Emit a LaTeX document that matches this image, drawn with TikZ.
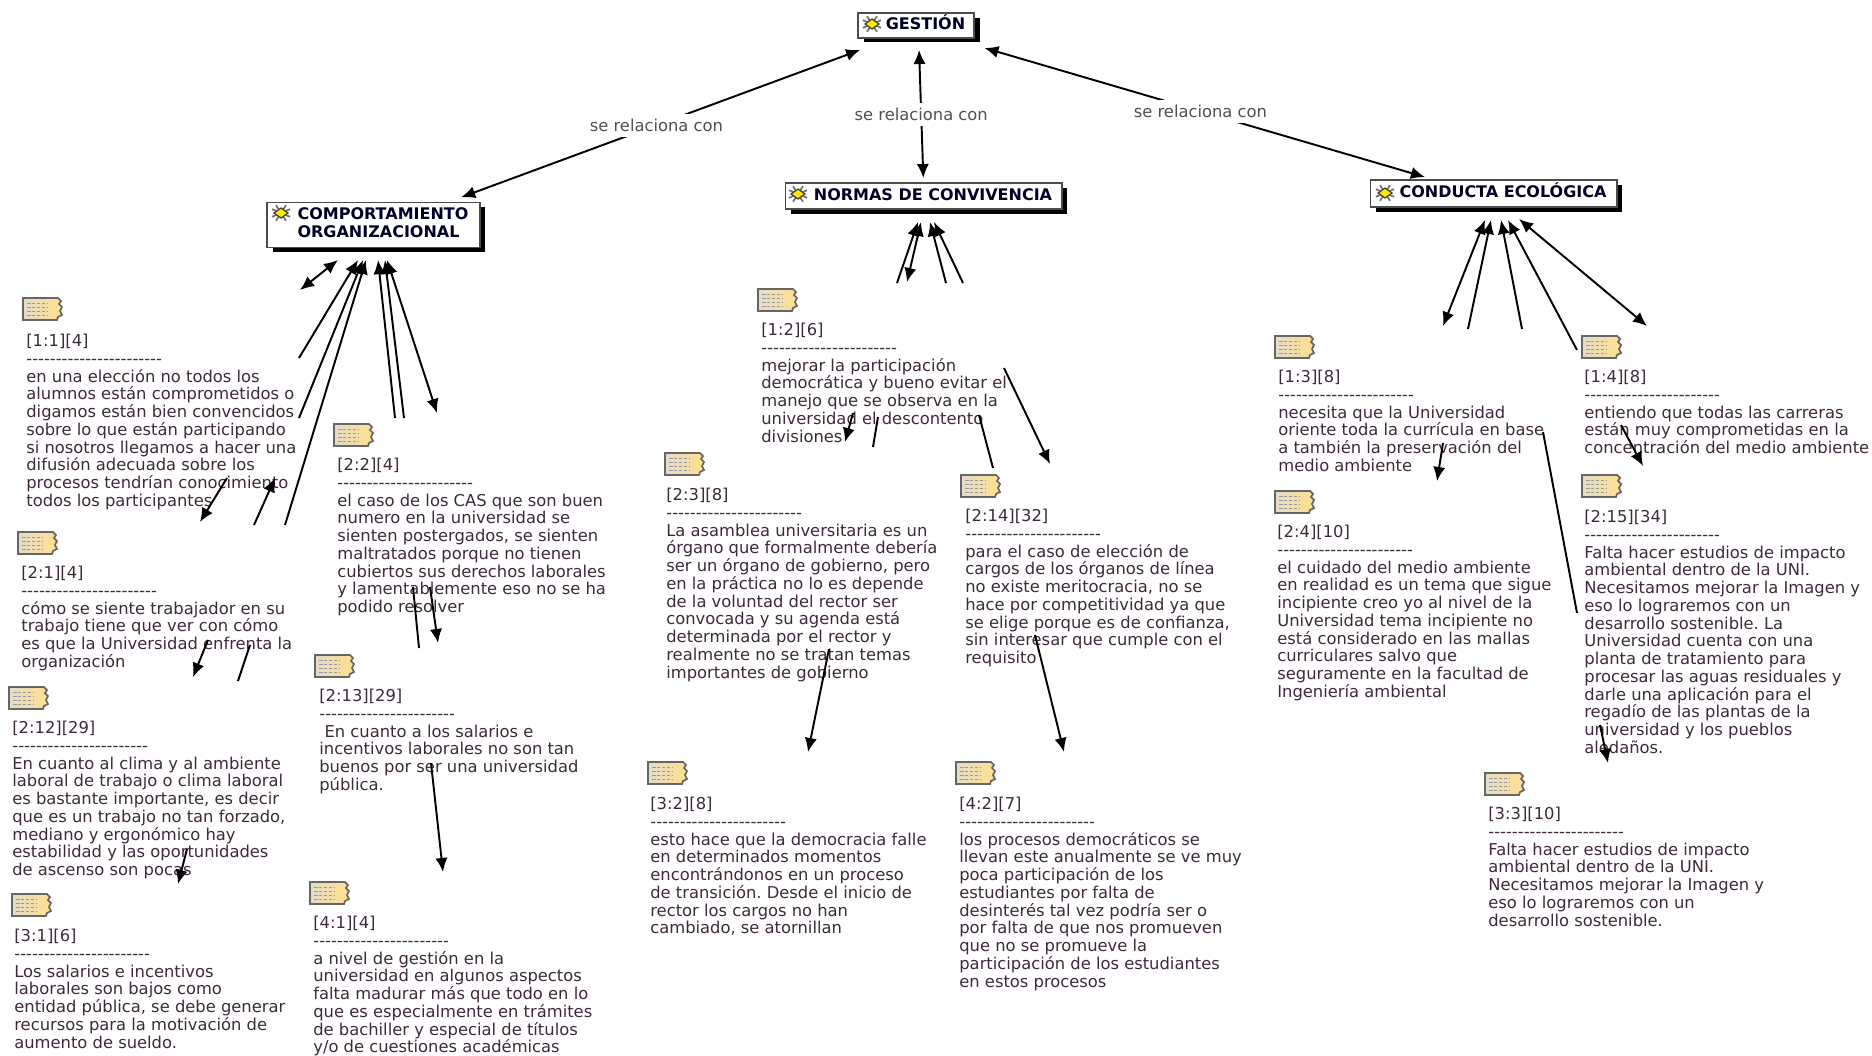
\documentclass[tikz,border=0pt]{standalone}
\usepackage{fontspec}
\usepackage{tikz}
\usetikzlibrary{arrows.meta,shadows}

\newfontfamily\notefont{DejaVu Sans}
\newcommand{\noterule}{-----------------------}
\newcommand{\iconpad}{\hspace*{0.38cm}}
\definecolor{notecol}{HTML}{3C2A3C}
\definecolor{labelcol}{HTML}{505050}
\definecolor{paperA}{HTML}{E4DCC8}
\definecolor{paperB}{HTML}{FFE08E}

\tikzset{
  notetext/.style={font=\notefont\frenchspacing\fontsize{9.3}{10.1}\selectfont, text=notecol, align=left, inner sep=0pt, anchor=north west, yshift=-0.5pt},
  conceptbox/.style={draw=black!70, fill=white, line width=0.6pt, outer sep=0pt, inner sep=0pt, align=left,
    font=\notefont\bfseries\fontsize{9.1}{10.2}\selectfont, text=black!85!blue,
    drop shadow={shadow xshift=0.11cm, shadow yshift=-0.09cm, fill=black, opacity=1}},
  rellabel/.style={font=\notefont\fontsize{9.3}{10}\selectfont, text=labelcol, fill=white, inner xsep=1pt, inner ysep=3pt},
  link/.style={line width=1.1pt, >={Latex[length=8pt,width=7pt]}},
  noteicon/.pic={
    \draw[draw=black!60, line width=1pt, left color=paperA, right color=paperB]
      (0,0) -- (35,0) -- (38,3) -- (36,6) -- (39,9) -- (37,13) -- (39,17) -- (35,19) -- (34,22) -- (0,22) -- cycle;
    \foreach \r in {5,9,13,17}
      \draw[black!40, line width=0.5pt, dash pattern=on 2pt off 0.8pt] (4,\r) -- (24,\r);
  },
  conceptmark/.pic={
    \foreach \a in {25,60,120,155,205,240,300,335}
      \draw[black!55, line width=1pt] (0,0) -- (\a:10 and 9);
    \draw[black!75, fill=yellow!90!orange, line width=0.7pt] (-7,0) -- (0,-5) -- (7,0) -- (0,5) -- cycle;
  }
}

\begin{document}
\begin{tikzpicture}[x=0.02cm, y=-0.02cm]

   \useasboundingbox (0,0) rectangle (1872,1055);

   % concepts
   \node[conceptbox, minimum width=2.32cm, minimum height=0.5cm, text height=6.5pt, text depth=1.5pt] (gestion) at (916,25.5) {\iconpad GESTIÓN};
   \node[conceptbox, minimum width=4.26cm, minimum height=0.9cm, text depth=3pt] (comport) at (373.5,225) {\iconpad COMPORTAMIENTO\\\iconpad ORGANIZACIONAL};
   \node[conceptbox, minimum width=5.54cm, minimum height=0.52cm, text height=6.5pt, text depth=1.5pt] (normas) at (923.5,196) {\iconpad NORMAS DE CONVIVENCIA};
   \node[conceptbox, minimum width=4.94cm, minimum height=0.54cm, text height=6.5pt, text depth=1.5pt] (conducta) at (1493.5,193.5) {\iconpad CONDUCTA ECOLÓGICA};

   \pic at (872,24) {conceptmark};
   \pic at (281,213) {conceptmark};
   \pic at (798,194) {conceptmark};
   \pic at (1385,193) {conceptmark};

   % main relations
   \draw[link,<->,shorten <=0.69cm,shorten >=0.3cm] (gestion.-152) -- node[rellabel,pos=0.53] (rel1) {se relaciona con} (comport.17.6);
   \draw[link,<->,shorten <=0.24cm,shorten >=0.1cm] (gestion.-78) -- node[rellabel,pos=0.53] (rel2) {se relaciona con} (normas.north);
   \draw[link,<->,shorten <=0.71cm,shorten >=0.21cm] (gestion.-20.9) -- node[rellabel,pos=0.516] (rel3) {se relaciona con} (conducta.167.2);

   % note icons
   \pic at (23,298) {noteicon};
   \pic at (18,532) {noteicon};
   \pic at (9,687) {noteicon};
   \pic at (12,894) {noteicon};
   \pic at (334,424) {noteicon};
   \pic at (315,655) {noteicon};
   \pic at (310,882) {noteicon};
   \pic at (758,289) {noteicon};
   \pic at (665,453) {noteicon};
   \pic at (961,475) {noteicon};
   \pic at (648,762) {noteicon};
   \pic at (956,762) {noteicon};
   \pic at (1275,336) {noteicon};
   \pic at (1582,336) {noteicon};
   \pic at (1275,491) {noteicon};
   \pic at (1582,475) {noteicon};
   \pic at (1485,773) {noteicon};

   % notes, left
   \node[notetext] (n11) at (26,333) {[1:1][4]\\\noterule\\en una elección no todos los\\alumnos están comprometidos o\\digamos están bien convencidos\\sobre lo que están participando\\si nosotros llegamos a hacer una\\difusión adecuada sobre los\\procesos tendrían conocimiento\\todos los participantes};
   \node[notetext] (n21) at (21,565) {[2:1][4]\\\noterule\\cómo se siente trabajador en su\\trabajo tiene que ver con cómo\\es que la Universidad enfrenta la\\organización};
   \node[notetext] (n212) at (12,720) {[2:12][29]\\\noterule\\En cuanto al clima y al ambiente\\laboral de trabajo o clima laboral\\es bastante importante, es decir\\que es un trabajo no tan forzado,\\mediano y ergonómico hay\\estabilidad y las oportunidades\\de ascenso son pocas};
   \node[notetext] (n31) at (14,928) {[3:1][6]\\\noterule\\Los salarios e incentivos\\laborales son bajos como\\entidad pública, se debe generar\\recursos para la motivación de\\aumento de sueldo.};
   \node[notetext] (n22) at (337,457) {[2:2][4]\\\noterule\\el caso de los CAS que son buen\\numero en la universidad se\\sienten postergados, se sienten\\maltratados porque no tienen\\cubiertos sus derechos laborales\\y lamentablemente eso no se ha\\podido resolver};
   \node[notetext] (n213) at (319,688) {[2:13][29]\\\noterule\\\hspace*{3pt}En cuanto a los salarios e\\incentivos laborales no son tan\\buenos por ser una universidad\\pública.};
   \node[notetext] (n41) at (313,915) {[4:1][4]\\\noterule\\a nivel de gestión en la\\universidad en algunos aspectos\\falta madurar más que todo en lo\\que es especialmente en trámites\\de bachiller y especial de títulos\\y/o de cuestiones académicas};

   % notes, centre
   \node[notetext] (n12) at (761,322) {[1:2][6]\\\noterule\\mejorar la participación\\democrática y bueno evitar el\\manejo que se observa en la\\universidad el descontento\\divisiones};
   \node[notetext] (n23) at (666,487) {[2:3][8]\\\noterule\\La asamblea universitaria es un\\órgano que formalmente debería\\ser un órgano de gobierno, pero\\en la práctica no lo es depende\\de la voluntad del rector ser\\convocada y su agenda está\\determinada por el rector y\\realmente no se tratan temas\\importantes de gobierno};
   \node[notetext] (n214) at (965,508) {[2:14][32]\\\noterule\\para el caso de elección de\\cargos de los órganos de línea\\no existe meritocracia, no se\\hace por competitividad ya que\\se elige porque es de confianza,\\sin interesar que cumple con el\\requisito};
   \node[notetext] (n32) at (650,796) {[3:2][8]\\\noterule\\esto hace que la democracia falle\\en determinados momentos\\encontrándonos en un proceso\\de transición. Desde el inicio de\\rector los cargos no han\\cambiado, se atornillan};
   \node[notetext] (n42) at (959,796) {[4:2][7]\\\noterule\\los procesos democráticos se\\llevan este anualmente se ve muy\\poca participación de los\\estudiantes por falta de\\desinterés tal vez podría ser o\\por falta de que nos promueven\\que no se promueve la\\participación de los estudiantes\\en estos procesos};

   % notes, right
   \node[notetext] (n13) at (1278,369) {[1:3][8]\\\noterule\\necesita que la Universidad\\oriente toda la currícula en base\\a también la preservación del\\medio ambiente};
   \node[notetext] (n14) at (1584,369) {[1:4][8]\\\noterule\\entiendo que todas las carreras\\están muy comprometidas en la\\concentración del medio ambiente};
   \node[notetext] (n24) at (1277,524) {[2:4][10]\\\noterule\\el cuidado del medio ambiente\\en realidad es un tema que sigue\\incipiente creo yo al nivel de la\\Universidad tema incipiente no\\está considerado en las mallas\\curriculares salvo que\\seguramente en la facultad de\\Ingeniería ambiental};
   \node[notetext] (n215) at (1584,509) {[2:15][34]\\\noterule\\Falta hacer estudios de impacto\\ambiental dentro de la UNI.\\Necesitamos mejorar la Imagen y\\eso lo lograremos con un\\desarrollo sostenible. La\\Universidad cuenta con una\\planta de tratamiento para\\procesar las aguas residuales y\\darle una aplicación para el\\regadío de las plantas de la\\universidad y los pueblos\\aledaños.};
   \node[notetext] (n33) at (1488,806) {[3:3][10]\\\noterule\\Falta hacer estudios de impacto\\ambiental dentro de la UNI.\\Necesitamos mejorar la Imagen y\\eso lo lograremos con un\\desarrollo sostenible.};

   % links, comportamiento
   \coordinate (a1) at (338,260); \coordinate (b1) at (300,290);
   \coordinate (a2) at (299,358); \coordinate (b2) at (358,260);
   \coordinate (a3) at (299,418); \coordinate (b3) at (363,260);
   \coordinate (a4) at (285,525); \coordinate (b4) at (366,260);
   \coordinate (a5) at (395,418); \coordinate (b5) at (378,260);
   \coordinate (a6) at (404,418); \coordinate (b6) at (385,260);
   \coordinate (a7) at (387,260); \coordinate (b7) at (437,413);
   \coordinate (a8) at (227,478); \coordinate (b8) at (200,522);
   \coordinate (a9) at (254,525); \coordinate (b9) at (275,478);
   \coordinate (a10) at (208,640); \coordinate (b10) at (193,677);
   \coordinate (a11) at (250,645); \coordinate (b11) at (238,681);
   \coordinate (a12) at (413,587); \coordinate (b12) at (419,648);
   \coordinate (a13) at (430,587); \coordinate (b13) at (438,643);
   \coordinate (a14) at (431,763); \coordinate (b14) at (443,872);
   \coordinate (a15) at (187,849); \coordinate (b15) at (178,884);

   \draw[link,<->] (a1) -- (b1);
   \draw[link,->] (a2) -- (b2);
   \draw[link,->] (a3) -- (b3);
   \draw[link,->] (a4) -- (b4);
   \draw[link,->] (a5) -- (b5);
   \draw[link,->] (a6) -- (b6);
   \draw[link,<->] (a7) -- (b7);
   \draw[link,->] (a8) -- (b8);
   \draw[link,->] (a9) -- (b9);
   \draw[link,->] (a10) -- (b10);
   \draw[link] (a11) -- (b11);
   \draw[link] (a12) -- (b12);
   \draw[link,->] (a13) -- (b13);
   \draw[link,->] (a14) -- (b14);
   \draw[link,->] (a15) -- (b15);

   % links, normas
   \coordinate (a16) at (897,283); \coordinate (b16) at (918,222);
   \coordinate (a17) at (921,222); \coordinate (b17) at (907,282);
   \coordinate (a18) at (946,283); \coordinate (b18) at (930,222);
   \coordinate (a19) at (963,283); \coordinate (b19) at (934,222);
   \coordinate (a20) at (853,413); \coordinate (b20) at (845,442);
   \coordinate (a21) at (878,417); \coordinate (b21) at (873,447);
   \coordinate (a22) at (979,415); \coordinate (b22) at (993,468);
   \coordinate (a23) at (1004,368); \coordinate (b23) at (1050,464);
   \coordinate (a24) at (829,649); \coordinate (b24) at (808,752);
   \coordinate (a25) at (1035,635); \coordinate (b25) at (1064,752);

   \draw[link,->] (a16) -- (b16);
   \draw[link,<->] (a17) -- (b17);
   \draw[link,->] (a18) -- (b18);
   \draw[link,->] (a19) -- (b19);
   \draw[link,->] (a20) -- (b20);
   \draw[link] (a21) -- (b21);
   \draw[link] (a22) -- (b22);
   \draw[link,->] (a23) -- (b23);
   \draw[link,->] (a24) -- (b24);
   \draw[link,->] (a25) -- (b25);

   % links, conducta
   \coordinate (a26) at (1485,220); \coordinate (b26) at (1443,326);
   \coordinate (a27) at (1468,329); \coordinate (b27) at (1491,220);
   \coordinate (a28) at (1522,329); \coordinate (b28) at (1501,220);
   \coordinate (a29) at (1577,350); \coordinate (b29) at (1508,220);
   \coordinate (a30) at (1519,219); \coordinate (b30) at (1647,326);
   \coordinate (a31) at (1443,443); \coordinate (b31) at (1437,481);
   \coordinate (a32) at (1543,432); \coordinate (b32) at (1577,613);
   \coordinate (a33) at (1621,425); \coordinate (b33) at (1643,466);
   \coordinate (a34) at (1600,725); \coordinate (b34) at (1608,763);

   \draw[link,<->] (a26) -- (b26);
   \draw[link,->] (a27) -- (b27);
   \draw[link,->] (a28) -- (b28);
   \draw[link,->] (a29) -- (b29);
   \draw[link,<->] (a30) -- (b30);
   \draw[link,->] (a31) -- (b31);
   \draw[link] (a32) -- (b32);
   \draw[link,->] (a33) -- (b33);
   \draw[link,->] (a34) -- (b34);

\end{tikzpicture}
\end{document}
